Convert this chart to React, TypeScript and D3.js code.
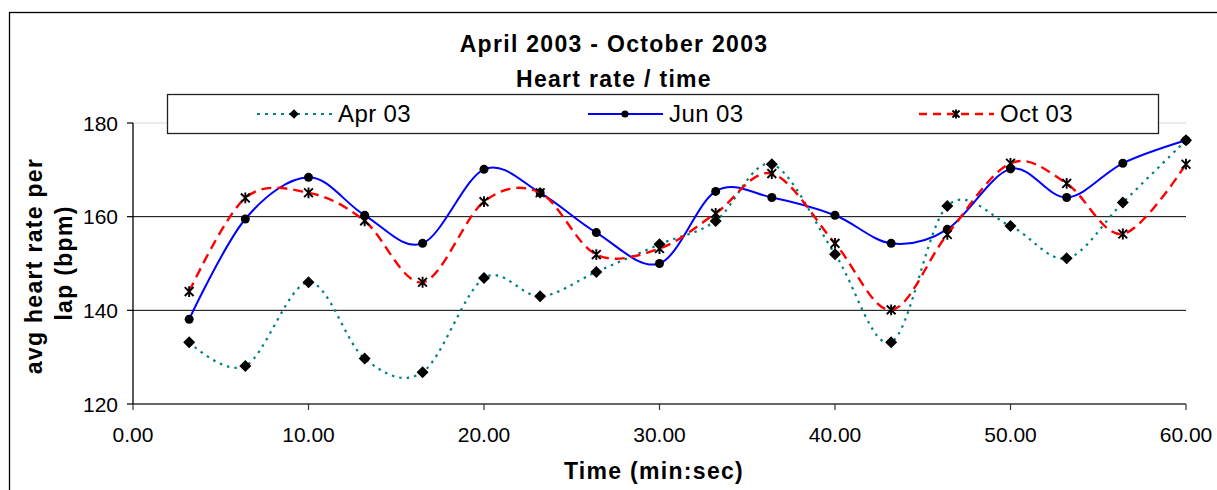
import * as d3 from 'd3'

// lap times (min) and avg heart rate per lap (bpm)
const laps = [3.2, 6.4, 10.0, 13.2, 16.5, 20.0, 23.2, 26.4, 30.0, 33.2, 36.4, 40.0, 43.2, 46.4, 50.0, 53.2, 56.4, 60.0]
const apr03 = [133.2, 128.1, 146.0, 129.7, 126.8, 146.9, 143.0, 148.2, 154.1, 159.1, 171.2, 152.0, 133.2, 162.3, 158.0, 151.1, 163.0, 176.3]
const jun03 = [138.1, 159.5, 168.4, 160.3, 154.3, 170.1, 165.1, 156.6, 150.0, 165.4, 164.1, 160.3, 154.3, 157.3, 170.2, 164.1, 171.4, 176.3]
const oct03 = [144.0, 164.0, 165.1, 159.1, 146.0, 163.2, 165.1, 151.9, 153.2, 160.7, 169.2, 154.3, 140.1, 156.2, 171.4, 167.1, 156.3, 171.2]

const seriesNames = ['Apr 03', 'Jun 03', 'Oct 03']
const yTicks = [120, 140, 160, 180]
const xTicks = [0, 10, 20, 30, 40, 50, 60]

const FONT = '"Liberation Sans", Arial, sans-serif'

type Marker = 'diamond' | 'circle' | 'star'

const SERIES = [
  { name: seriesNames[0], values: apr03, color: '#008080', dash: '2.5,5', width: 2.2, marker: 'diamond' as Marker },
  { name: seriesNames[1], values: jun03, color: '#0000ff', dash: 'none', width: 2, marker: 'circle' as Marker },
  { name: seriesNames[2], values: oct03, color: '#ff0000', dash: '10,6', width: 2.4, marker: 'star' as Marker },
]

function MarkerShape({ kind, x, y, s = 1 }: { kind: Marker; x: number; y: number; s?: number }) {
  if (kind === 'diamond') {
    const r = 6 * s
    return <path d={`M${x},${y - r}L${x + r},${y}L${x},${y + r}L${x - r},${y}Z`} fill="#000" />
  }
  if (kind === 'circle') {
    return <circle cx={x} cy={y} r={4.5 * s} fill="#000" />
  }
  const r = 4.4 * s
  return (
    <path
      d={`M${x - r},${y - r}L${x + r},${y + r}M${x - r},${y + r}L${x + r},${y - r}M${x},${y - r - 1}L${x},${y + r + 1}`}
      stroke="#000"
      strokeWidth={1.9}
      fill="none"
    />
  )
}

export default function App() {
  const width = 1217
  const height = 490

  const x = d3.scaleLinear().domain([0, 60]).range([133, 1186])
  const y = d3.scaleLinear().domain([120, 180]).range([404, 123])

  const line = d3.line<number>()
    .x((_, i) => x(laps[i]))
    .y(d => y(d))
    .curve(d3.curveCardinal.tension(0))

  const legendY = 114

  return (
    <div style={{ position: 'absolute', left: 0, top: 0 }}>
      <svg width={width} height={height} style={{ display: 'block', background: '#fff' }}>
        {/* chart border */}
        <rect x={9.5} y={12.5} width={1300} height={600} fill="none" stroke="#000" strokeWidth={1.3} />

        {/* title */}
        <g fontFamily={FONT} fontWeight="bold" fontSize={23} letterSpacing={1.3} textAnchor="middle" fill="#000">
          <text x={614} y={52}>April 2003 - October 2003</text>
          <text x={614} y={87}>Heart rate / time</text>
        </g>

        {/* grid lines */}
        {yTicks.slice(1).map(t => (
          <line
            key={t}
            x1={x(0)}
            x2={x(60)}
            y1={y(t)}
            y2={y(t)}
            stroke={t === 180 ? '#d9d9d9' : '#000'}
            strokeWidth={1}
          />
        ))}

        {/* axes */}
        <line x1={x(0)} x2={x(60)} y1={y(120)} y2={y(120)} stroke="#333" strokeWidth={1.3} />
        <line x1={x(0)} x2={x(0)} y1={y(180)} y2={y(120)} stroke="#000" strokeWidth={1.3} />
        {yTicks.map(t => (
          <g key={t}>
            <line x1={x(0) - 6} x2={x(0)} y1={y(t)} y2={y(t)} stroke="#000" strokeWidth={1.2} />
            <text x={118} y={y(t) + 7.5} textAnchor="end" fontFamily={FONT} fontSize={21}>
              {t}
            </text>
          </g>
        ))}
        {xTicks.map(t => (
          <g key={t}>
            <line x1={x(t)} x2={x(t)} y1={y(120)} y2={y(120) + 6} stroke="#333" strokeWidth={1.2} />
            <text x={x(t)} y={442} textAnchor="middle" fontFamily={FONT} fontSize={21}>
              {t.toFixed(2)}
            </text>
          </g>
        ))}

        {/* axis titles */}
        <g fontFamily={FONT} fontWeight="bold" fontSize={23} letterSpacing={1.3} textAnchor="middle">
          <text transform="translate(42,266) rotate(-90)">avg heart rate per</text>
          <text transform="translate(72,263) rotate(-90)">lap (bpm)</text>
          <text x={654} y={479}>Time (min:sec)</text>
        </g>

        {/* series */}
        {SERIES.map(s => (
          <g key={s.name}>
            <path
              d={line(s.values) ?? ''}
              fill="none"
              stroke={s.color}
              strokeWidth={s.width}
              strokeDasharray={s.dash}
            />
            {s.values.map((v, i) => (
              <MarkerShape key={i} kind={s.marker} x={x(laps[i])} y={y(v)} />
            ))}
          </g>
        ))}

        {/* legend */}
        <rect x={167.5} y={94.5} width={991} height={39} fill="#fff" stroke="#222" strokeWidth={1.3} />
        {SERIES.map((s, i) => {
          const x0 = 257 + i * 331
          return (
            <g key={s.name}>
              <line
                x1={x0}
                x2={x0 + 75}
                y1={legendY}
                y2={legendY}
                stroke={s.color}
                strokeWidth={s.width}
                strokeDasharray={s.dash === 'none' ? 'none' : s.marker === 'star' ? '8,6' : '3,5'}
              />
              <MarkerShape kind={s.marker} x={x0 + 37} y={legendY} s={0.8} />
              <text x={x0 + 81} y={legendY + 7.5} fontFamily={FONT} fontSize={24} letterSpacing={0.4}>
                {s.name}
              </text>
            </g>
          )
        })}
      </svg>
    </div>
  )
}
